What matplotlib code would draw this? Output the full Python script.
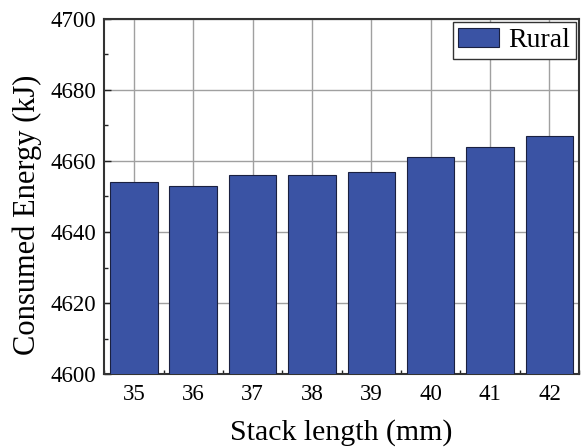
import matplotlib
matplotlib.use("Agg")
import matplotlib.pyplot as plt
from matplotlib.ticker import MultipleLocator

stack_length = [35, 36, 37, 38, 39, 40, 41, 42]
energy_rural = [4654, 4653, 4656, 4656, 4657, 4661, 4664, 4667]

plt.rcParams["font.family"] = ["Liberation Serif", "DejaVu Serif"]

fig = plt.figure(figsize=(5.85, 4.48), dpi=100)
ax = fig.add_axes([0.178, 0.165, 0.812, 0.793])

ax.bar(stack_length, energy_rural, width=0.8, color="#3a53a4", edgecolor="#1a2040",
       linewidth=0.8, label="Rural", zorder=3)

ax.set_xlim(34.5, 42.5)
ax.set_ylim(4600, 4700)
ax.set_xticks(stack_length)
ax.yaxis.set_major_locator(MultipleLocator(20))
ax.yaxis.set_minor_locator(MultipleLocator(10))
ax.xaxis.set_minor_locator(MultipleLocator(1, offset=0.5))

ax.grid(True, which="major", color="#a0a0a0", linewidth=1.0, zorder=0)
ax.set_axisbelow(True)

ax.tick_params(which="both", direction="in", labelsize=16.5, width=1.0, color="#222222")
ax.tick_params(which="major", length=5)
ax.tick_params(which="minor", length=3)
ax.tick_params(axis="x", pad=7)
ax.tick_params(axis="y", pad=6)

for s in ax.spines.values():
    s.set_linewidth(1.5)
    s.set_color("#333333")

ax.set_xlabel("Stack length (mm)", fontsize=21.5, labelpad=10)
ax.set_ylabel("Consumed Energy (kJ)", fontsize=22)
ax.yaxis.set_label_coords(-0.13, 0.448)

leg = ax.legend(loc="upper right", fontsize=20, fancybox=False, framealpha=1,
                edgecolor="#333333", borderpad=0.2, handlelength=1.45,
                handletextpad=0.35, borderaxespad=0.12)
leg.get_frame().set_linewidth(1.0)

fig.savefig("out.png", dpi=100)
